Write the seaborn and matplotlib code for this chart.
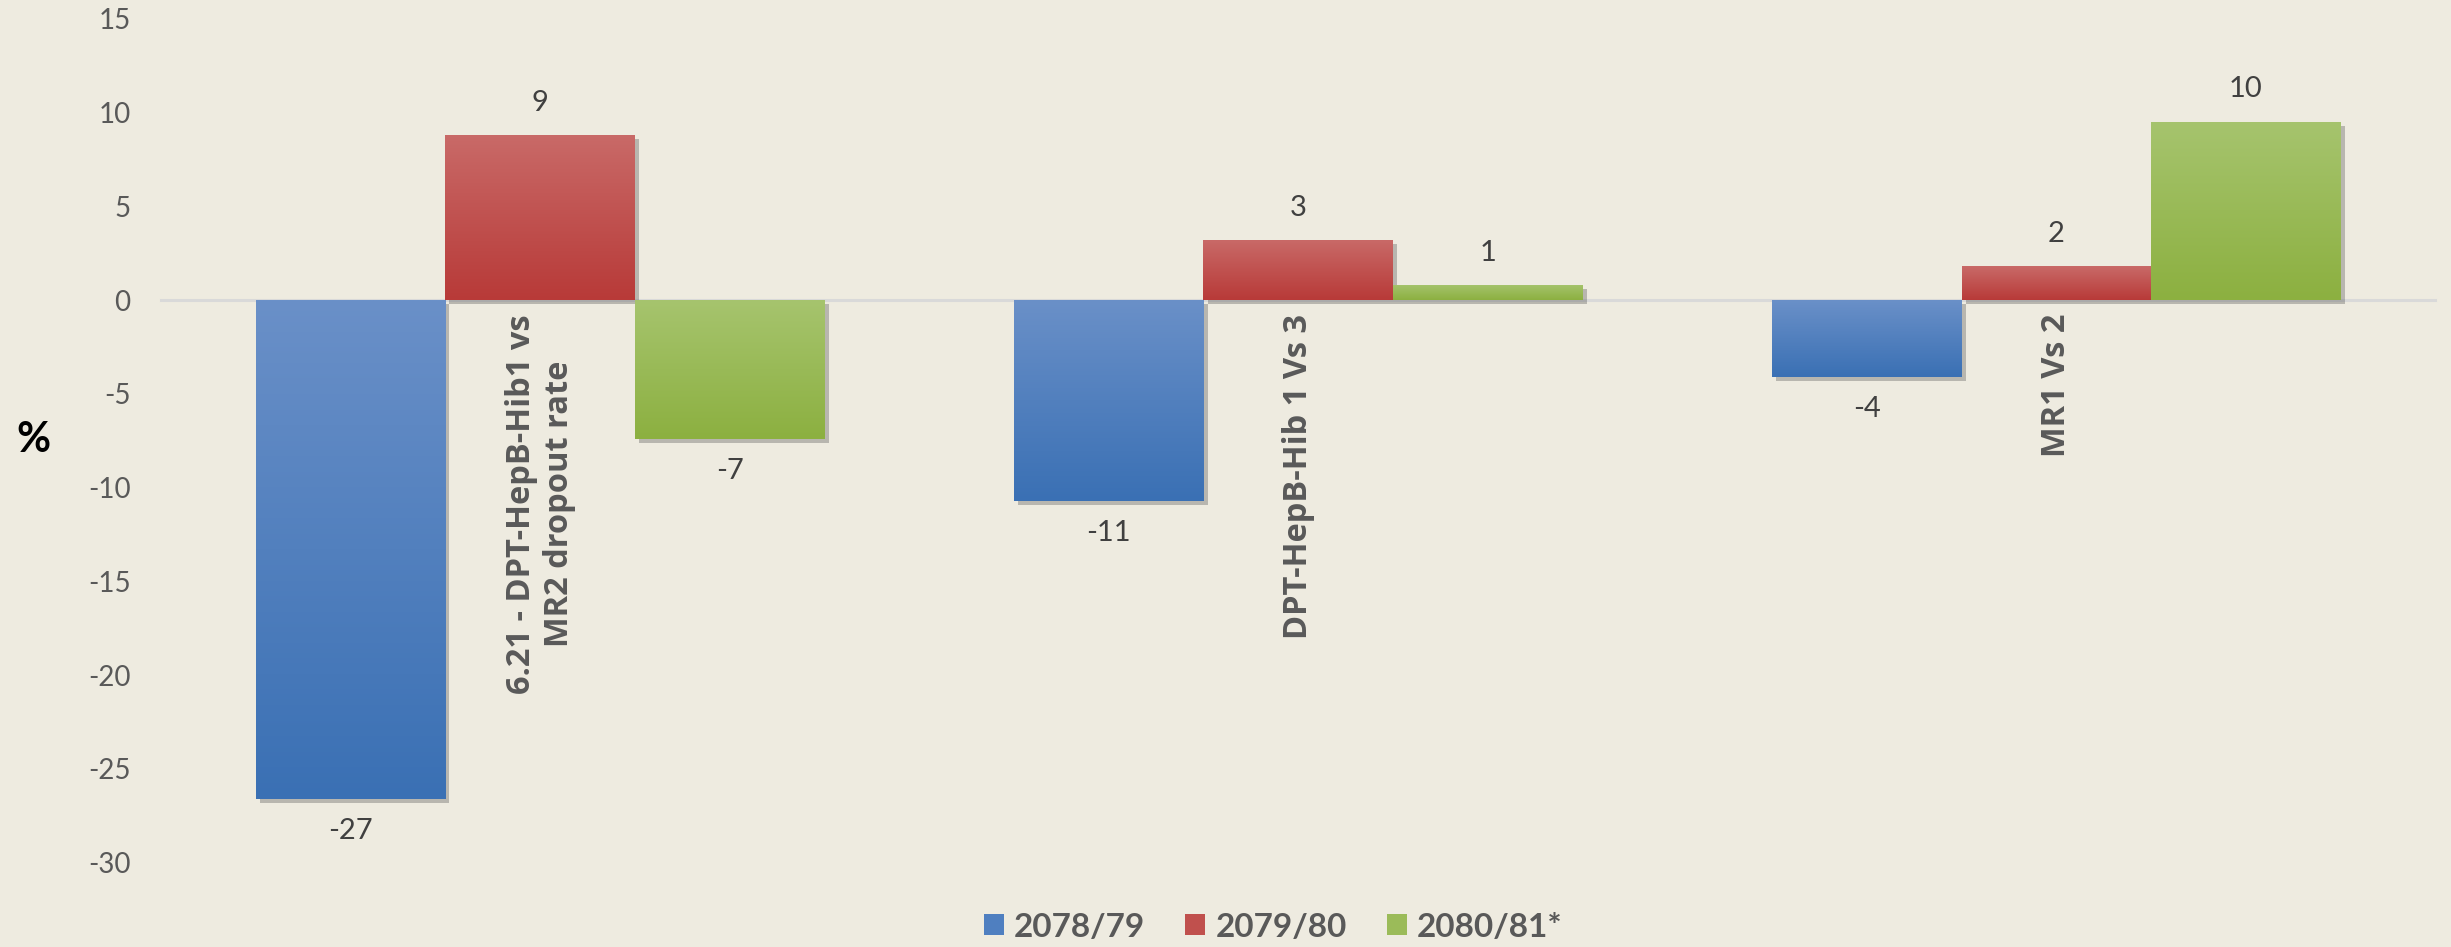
import matplotlib
matplotlib.use('Agg')
import matplotlib.pyplot as plt
import matplotlib.patheffects as pe
from matplotlib.colors import LinearSegmentedColormap
from matplotlib.patches import Patch
import numpy as np
import pandas as pd
import seaborn as sns

categories = ['6.21 - DPT-HepB-Hib1 vs\nMR2 dropout rate', 'DPT-HepB-Hib 1 Vs 3', 'MR1 Vs 2']
years = ['2078/79', '2079/80', '2080/81*']
v_2078 = [-26.6, -10.7, -4.1]
v_2079 = [8.8, 3.2, 1.8]
v_2080 = [-7.4, 0.8, 9.5]

# light (top) / dark (bottom) for each series
tops = ['#6A90C8', '#C96A68', '#A6C46E']
bottoms = ['#3A70B4', '#B83A38', '#8CB040']
mids = ['#4F7FC0', '#C0504D', '#9BBB59']

bg = '#EEEBE0'

df = pd.DataFrame({
    'cat': categories * 3,
    'year': np.repeat(years, 3),
    'val': v_2078 + v_2079 + v_2080,
})

sns.set_theme(style='white')
plt.rcParams['font.family'] = ['Lato', 'DejaVu Sans']
plt.rcParams['axes.unicode_minus'] = False

fig = plt.figure(figsize=(24.51, 9.47), dpi=100, facecolor=bg)
ax = fig.add_axes([103/1568, 1-552/606, (1558-103)/1568, (552-12)/606])
ax.set_facecolor(bg)

sns.barplot(data=df, x='cat', y='val', hue='year', palette=mids, width=0.75,
            ax=ax, legend=False, errorbar=None, saturation=1)

# gradient fill + soft shadow on every bar
for i, cont in enumerate(ax.containers):
    cmap = LinearSegmentedColormap.from_list('g%d' % i, [tops[i], bottoms[i]])
    for bar in cont:
        bar.set_edgecolor('none')
        bar.set_path_effects([pe.SimplePatchShadow(offset=(3, -3), shadow_rgbFace='#555555', alpha=0.35),
                              pe.Normal()])
        x0 = bar.get_x()
        w = bar.get_width()
        y0 = bar.get_y()
        h = bar.get_height()
        grad = np.linspace(0, 1, 256).reshape(-1, 1)
        im = ax.imshow(grad, cmap=cmap, aspect='auto', origin='upper',
                       extent=[x0, x0 + w, min(y0, y0 + h), max(y0, y0 + h)], zorder=bar.get_zorder() + 0.1)
        im.set_clip_path(bar)
    ax.bar_label(cont, fmt='%.0f', padding=14, fontsize=21, color='#404040')

ax.set_xlim(-0.5, 2.5)
ax.set_ylim(-30, 15)
ax.set_yticks(range(-30, 16, 5))
ax.set_xlabel('')
ax.set_ylabel('')

for s in ['top', 'right', 'left']:
    ax.spines[s].set_visible(False)
ax.spines['bottom'].set_position(('data', 0))
ax.spines['bottom'].set_color('#D9D9D9')
ax.spines['bottom'].set_linewidth(2.2)
ax.spines['bottom'].set_zorder(0.5)

ax.tick_params(axis='y', length=0, pad=22, labelsize=20, labelcolor='#595959')
ax.tick_params(axis='x', length=0, pad=10)
ax.set_xticks(range(len(categories)))
ax.set_xticklabels(categories, rotation=90, fontsize=23.5, fontweight='bold', color='#595959',
                   family=['Open Sans', 'DejaVu Sans'])
for lab in ax.get_xticklabels():
    lab.set_va('top')
    lab.set_ha('center')
    lab.set_multialignment('center')

fig.text(33/2451, 1-440/947, '%', fontsize=30, fontweight='bold', color='black', ha='center', va='center')

handles = [Patch(facecolor=mids[i], edgecolor='none', label=years[i]) for i in range(3)]
leg = fig.legend(handles=handles, loc='center', bbox_to_anchor=(0.5195, 1-927/947), ncol=3,
                 frameon=False, fontsize=24, handlelength=0.6, handleheight=0.6,
                 handletextpad=0.3, columnspacing=1.2)
for t in leg.get_texts():
    t.set_fontweight('bold')
    t.set_color('#595959')

fig.savefig('out.png', dpi=100, facecolor=bg)
